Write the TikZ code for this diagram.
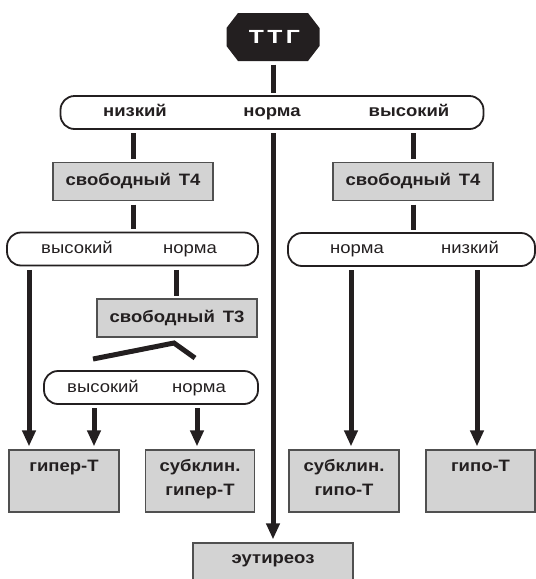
\documentclass[tikz,border=0pt]{standalone}
\usepackage{fontspec}
\setmainfont{Liberation Sans}[FakeStretch=1.12]
\usetikzlibrary{arrows.meta}
\definecolor{boxfill}{HTML}{D3D3D3}
\definecolor{boxline}{HTML}{505050}
\definecolor{ink}{HTML}{231F20}
\begin{document}
\begin{tikzpicture}[x=1pt,y=-1pt,
  pill/.style={draw=ink, line width=1.8pt, rounded corners=14pt, minimum height=33pt, inner sep=0pt},
  greybox/.style={draw=boxline, fill=boxfill, line width=1.2pt, inner sep=0pt},
  headbox/.style={greybox, minimum width=160pt, minimum height=38pt, text=ink,
     font=\bfseries\fontsize{16.5}{24}\selectfont, text height=12pt, text depth=4pt},
  endbox/.style={greybox, minimum width=109pt, minimum height=62pt},
  lbl/.style={font=\fontsize{16.5}{24}\selectfont, text=ink, inner sep=0pt, anchor=base},
  blbl/.style={lbl, font=\bfseries\fontsize{16.5}{24}\selectfont},
  link/.style={line width=5pt, draw=ink, shorten <=3.5pt, shorten >=2.5pt},
  arr/.style={line width=5pt, draw=ink, shorten <=3.5pt, shorten >=3pt, -{Triangle[length=16pt,width=13pt]}},
  ttgbox/.style={minimum width=93pt, minimum height=48pt, inner sep=0pt, text=white,
     font=\bfseries\fontsize{19}{22}\selectfont\addfontfeature{FakeStretch=1.3,LetterSpace=18},
     path picture={\fill[ink] ([xshift=11.5pt]path picture bounding box.north west)
        -- ([xshift=-11.5pt]path picture bounding box.north east)
        -- ([yshift=-15pt]path picture bounding box.north east)
        -- ([yshift=15pt]path picture bounding box.south east)
        -- ([xshift=-11.5pt]path picture bounding box.south east)
        -- ([xshift=11.5pt]path picture bounding box.south west)
        -- ([yshift=15pt]path picture bounding box.south west)
        -- ([yshift=-15pt]path picture bounding box.north west) -- cycle;}},
]
\useasboundingbox (0,0) rectangle (536,579);

% top
\node[ttgbox] (ttg) at (273,37) {\hspace*{0.15em}ТТГ};
\node[pill, minimum width=423pt] (p1) at (272,112.5) {};
\node[blbl] (p1a) at (135,116.5) {низкий};
\node[blbl] (p1b) at (272,116.5) {норма};
\node[blbl] (p1c) at (409,116.5) {высокий};

% head boxes
\node[headbox] (b4L) at (133,181.5) {свободный\, T4};
\node[headbox] (b4R) at (413,181.5) {свободный\, T4};

% second level pills
\node[pill, minimum width=251pt] (p2L) at (132.5,249) {};
\node[lbl] (p2La) at (77,253) {высокий};
\node[lbl] (p2Lb) at (190,253) {норма};
\node[pill, minimum width=247pt] (p2R) at (411.5,249.5) {};
\node[lbl] (p2Ra) at (357,253.5) {норма};
\node[lbl] (p2Rb) at (470,253.5) {низкий};

% T3
\node[headbox] (b3) at (177,318) {свободный\, T3};
\coordinate (fa) at (93,359);
\coordinate (fb) at (174,343);
\coordinate (fc) at (195,358);
\node[pill, minimum width=214pt] (p3) at (151,387.5) {};
\node[lbl] (p3a) at (103,392) {высокий};
\node[lbl] (p3b) at (199,392) {норма};

% end boxes
\node[endbox, minimum width=110pt] (hyper) at (64,481) {};
\node[blbl] (hyperT) at (64,471) {гипер-Т};
\node[endbox] (subhyper) at (200,481) {};
\node[blbl] (subhyperT) at (200,471) {\begin{tabular}[t]{@{}c@{}}субклин.\\гипер-Т\end{tabular}};
\node[endbox, minimum width=110pt] (subhypo) at (344,481) {};
\node[blbl] (subhypoT) at (344,471) {\begin{tabular}[t]{@{}c@{}}субклин.\\гипо-Т\end{tabular}};
\node[endbox] (hypo) at (480.5,481) {};
\node[blbl] (hypoT) at (480.5,471) {гипо-Т};
\node[greybox, minimum width=160pt, minimum height=40pt] (eu) at (273,563) {};
\node[blbl] (euT) at (273,563) {эутиреоз};

% x positions of connectors
\coordinate (xa) at (29,0);
\coordinate (xb) at (94,0);
\coordinate (xc) at (197,0);
\coordinate (xd) at (176,0);
\coordinate (xe) at (351,0);
\coordinate (xf) at (477,0);
\coordinate (xg) at (273,0);

% connectors
\draw[link] (ttg.south) -- (ttg.south |- p1.north);
\draw[link] (p1.south -| b4L) -- (b4L.north);
\draw[link] (p1.south -| b4R) -- (b4R.north);
\draw[arr] (p1.south -| xg) -- (eu.north -| xg);
\draw[link] (b4L.south) -- (b4L.south |- p2L.north);
\draw[link] (b4R.south) -- (b4R.south |- p2R.north);
\draw[arr] (p2L.south -| xa) -- (hyper.north -| xa);
\draw[link] (p2L.south -| xd) -- (b3.north -| xd);
\draw[line width=5pt, draw=ink, line join=miter] (fa) -- (fb) -- (fc);
\draw[arr] (p3.south -| xb) -- (hyper.north -| xb);
\draw[arr] (p3.south -| xc) -- (subhyper.north -| xc);
\draw[arr] (p2R.south -| xe) -- (subhypo.north -| xe);
\draw[arr] (p2R.south -| xf) -- (hypo.north -| xf);
\end{tikzpicture}
\end{document}
